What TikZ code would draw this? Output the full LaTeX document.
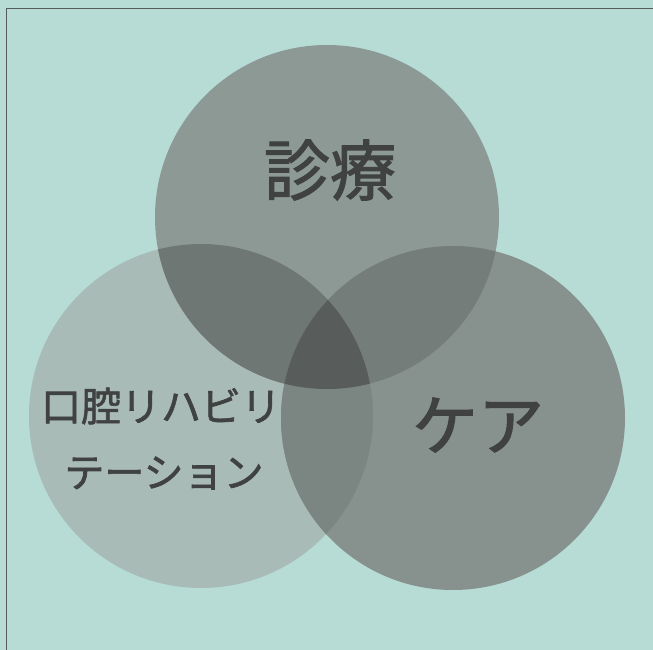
\documentclass[tikz,border=0pt]{standalone}
\usepackage{fontspec}
\newfontfamily\jpfont[FakeBold=1.6]{Noto Sans CJK JP}

\definecolor{bgteal}{HTML}{B6DCD5}
\definecolor{framegray}{HTML}{555B59}
\definecolor{topgray}{HTML}{8D9995}
\definecolor{leftgray}{HTML}{A9BBB7}
\definecolor{rightgray}{HTML}{87928F}
\definecolor{tlgray}{HTML}{6F7775}
\definecolor{trgray}{HTML}{757D7B}
\definecolor{lrgray}{HTML}{7B8582}
\definecolor{midgray}{HTML}{585C5B}
\definecolor{textgray}{HTML}{404241}

\newcommand{\topdisc}{(327,217) circle[radius=172]}
\newcommand{\leftdisc}{(201,416) circle[radius=172]}
\newcommand{\rightdisc}{(453,418) circle[radius=172]}

\begin{document}
\begin{tikzpicture}[x=1pt, y=-1pt,
	biglabel/.style={text=textgray, inner sep=0pt, font=\jpfont\fontsize{66}{70}\selectfont},
	smalllabel/.style={text=textgray, inner sep=0pt, font=\jpfont\fontsize{40}{44}\selectfont}]
				% Background and frame:
				\fill[bgteal] (0,0) rectangle (653,650);
				\useasboundingbox (0,0) rectangle (653,650);
				\coordinate (corner) at (6,9);
				\coordinate (topend) at (653,9);
				\coordinate (leftend) at (6,650);
				\draw[framegray, line width=1pt] (leftend) -- (corner) -- (topend);
				% Discs:
				\fill[leftgray] \leftdisc;
				\fill[topgray] \topdisc;
				\fill[rightgray] \rightdisc;
				% Overlaps:
				\begin{scope}
					\clip \topdisc;
					\fill[tlgray] \leftdisc;
					\fill[trgray] \rightdisc;
				\end{scope}
				\begin{scope}
					\clip \leftdisc;
					\fill[lrgray] \rightdisc;
				\end{scope}
				\begin{scope}
					\clip \topdisc;
					\clip \leftdisc;
					\fill[midgray] \rightdisc;
				\end{scope}
				% Labels:
				\node[biglabel] (shinryo) at (330,170) {診療};
				\node[biglabel] (kea) at (478,425) {ケア};
				\node[smalllabel] (rehaA) at (161,406) {口腔リハビリ};
				\node[smalllabel] (rehaB) at (164,473) {テーション};
			\end{tikzpicture}
\end{document}
